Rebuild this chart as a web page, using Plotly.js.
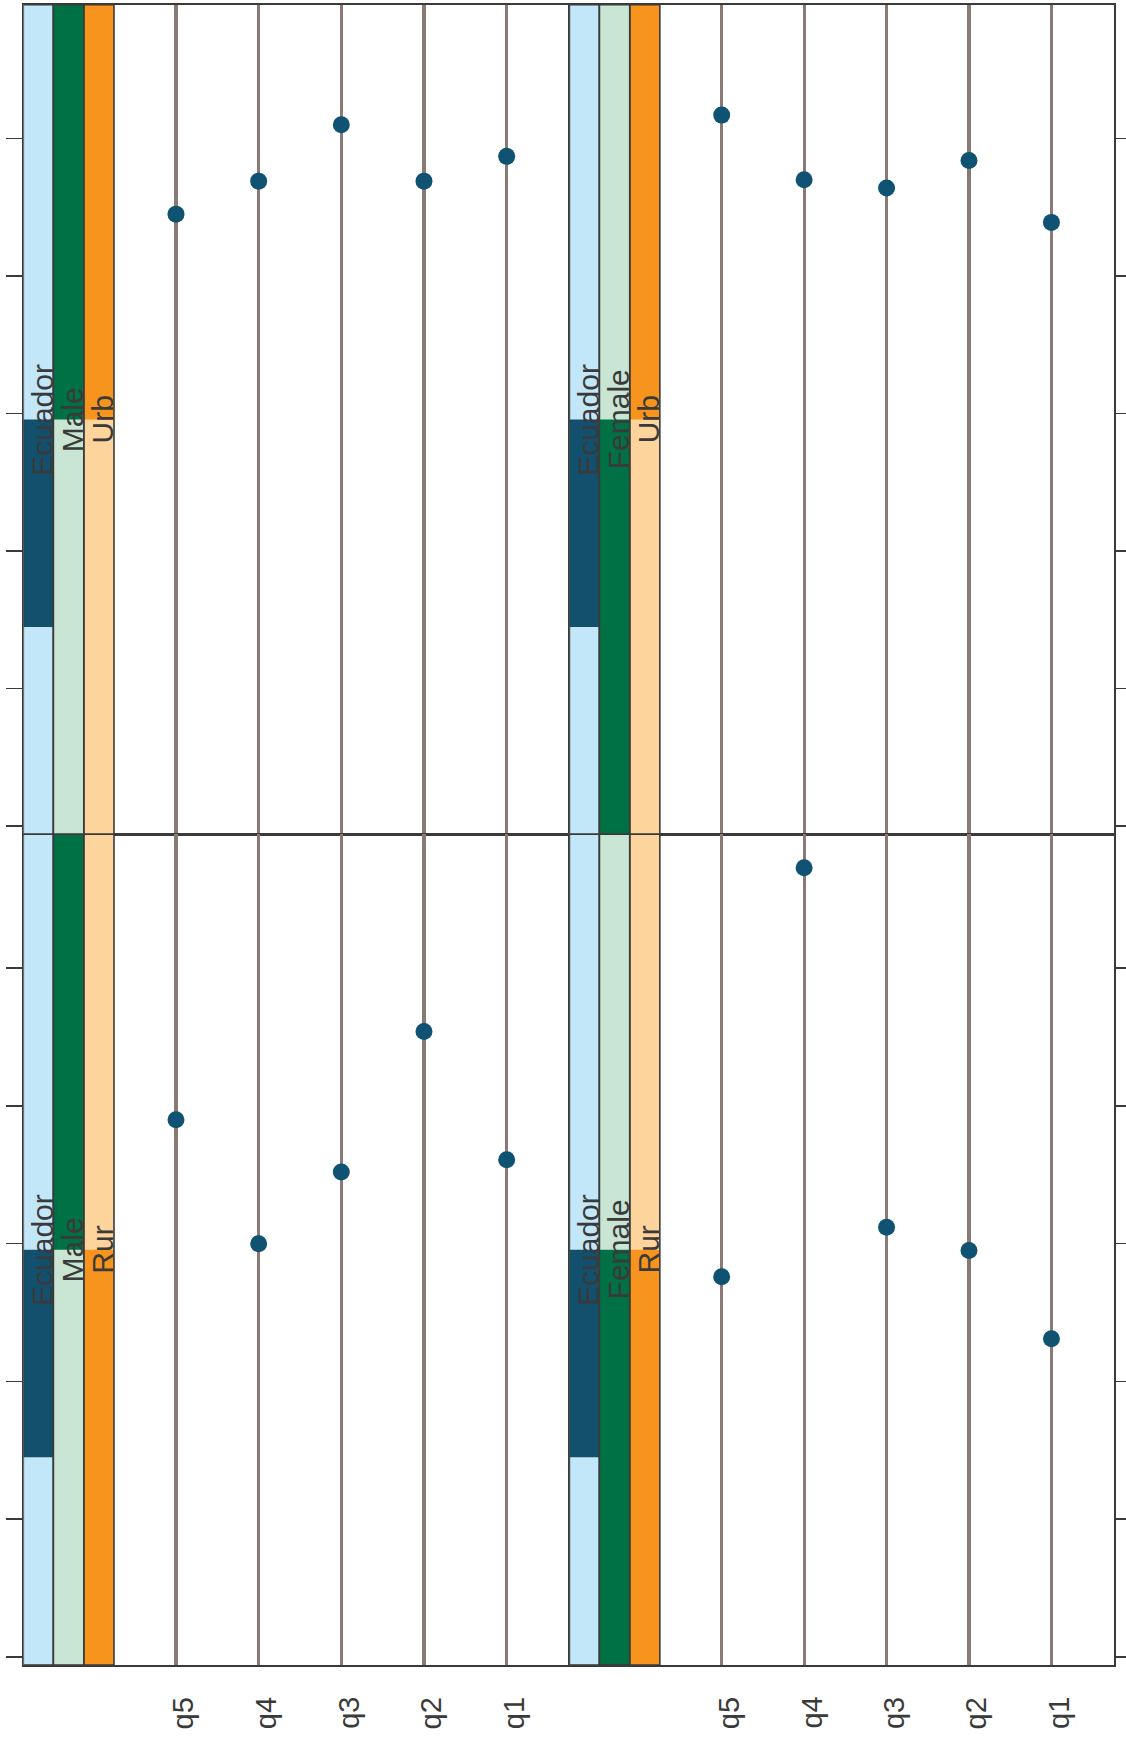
<!DOCTYPE html>
<html><head><meta charset="utf-8">
<script src="https://cdn.plot.ly/plotly-3.0.1.min.js"></script>
<style>html,body{margin:0;padding:0;background:#fff}#chart{width:1126px;height:1754px}</style>
</head><body><div id="chart"></div>
<script>
// ---- data ----
const quintiles = ['q5', 'q4', 'q3', 'q2', 'q1'];
const maleUrb   = [4.45, 4.69, 5.10, 4.69, 4.87];
const femaleUrb = [5.17, 4.70, 4.64, 4.84, 4.39];
const maleRur   = [3.90, 3.00, 3.52, 4.54, 3.61];
const femaleRur = [2.76, 5.73, 3.12, 2.95, 2.31];
const valueTicks = [0, 1, 2, 3, 4, 5];
const countryName = 'Ecuador';
const sexLevels = ['Male', 'Female'];
const areaLevels = ['Urb', 'Rur'];

// ---- styling ----
const W = 1126, H = 1754;
const FONT = 'Liberation Sans, Arial, Helvetica, sans-serif';
const C = {
  dot: '#0f5272', grid: '#8a7a73', frame: '#3a3a3a', text: '#3a3a3a',
  lightBlue: '#c2e7f9', navy: '#12506e',
  darkGreen: '#007045', lightGreen: '#c8e6d3',
  orange: '#f7941e', lightOrange: '#fdd49b'
};
const px = {left: 23.3, mid: 569.4, right: 1114, top: 4.7, midY: 834.3, bottom: 1665};
const xRange = [-1.847, 4.759];
const yRange = [-0.06, 5.973];
const stripEdges = [-1.847, -1.484, -1.115, -0.75];

const panels = [
  {ax: '',  sex: 0, area: 0, vals: maleUrb,   col: 0, row: 0},
  {ax: '2', sex: 1, area: 0, vals: femaleUrb, col: 1, row: 0},
  {ax: '3', sex: 0, area: 1, vals: maleRur,   col: 0, row: 1},
  {ax: '4', sex: 1, area: 1, vals: femaleRur, col: 1, row: 1}
];

const data = [];
const layout = {
  width: W, height: H, margin: {l: 0, r: 0, t: 0, b: 0},
  paper_bgcolor: '#ffffff', plot_bgcolor: '#ffffff',
  showlegend: false, shapes: [], annotations: []
};

panels.forEach(p => {
  const xa = 'x' + p.ax, ya = 'y' + p.ax;
  const xd = p.col === 0 ? [px.left / W, px.mid / W] : [px.mid / W, px.right / W];
  const yd = p.row === 0 ? [1 - px.midY / H, 1 - px.top / H] : [1 - px.bottom / H, 1 - px.midY / H];
  layout['xaxis' + p.ax] = {
    domain: xd, anchor: ya, type: 'category', categoryorder: 'array', categoryarray: quintiles,
    tickmode: 'array', tickvals: quintiles, range: xRange,
    showgrid: true, gridcolor: C.grid, gridwidth: 3.2, showticklabels: false, ticks: '',
    showline: true, mirror: true, linecolor: C.frame, linewidth: 1.6, zeroline: false, fixedrange: true
  };
  layout['yaxis' + p.ax] = {
    domain: yd, anchor: xa, range: yRange, tickmode: 'array', tickvals: valueTicks,
    side: p.col === 0 ? 'left' : 'right',
    ticks: 'outside', ticklen: 16, tickwidth: 1.6, tickcolor: C.frame, showticklabels: false,
    showgrid: false, zeroline: false, showline: true, mirror: true, linecolor: C.frame, linewidth: 1.6,
    fixedrange: true
  };
  data.push({
    type: 'scatter', mode: 'markers', x: quintiles, y: p.vals, xaxis: xa, yaxis: ya,
    marker: {size: 17, color: C.dot}, hoverinfo: 'x+y'
  });

  const yr = ya + ' domain';
  const rect = (x0, x1, y0, y1, fill) => layout.shapes.push({
    type: 'rect', xref: xa, yref: yr, x0, x1, y0, y1, fillcolor: fill, line: {width: 0}, layer: 'above'
  });
  // strip 1: country (level indicator in 3rd quarter from the top)
  rect(stripEdges[0], stripEdges[1], 0, 1, C.lightBlue);
  rect(stripEdges[0], stripEdges[1], 0.25, 0.5, C.navy);
  // strip 2: sex
  rect(stripEdges[1], stripEdges[2], 0, 1, C.lightGreen);
  rect(stripEdges[1], stripEdges[2], p.sex === 0 ? 0.5 : 0, p.sex === 0 ? 1 : 0.5, C.darkGreen);
  // strip 3: area
  rect(stripEdges[2], stripEdges[3], 0, 1, C.lightOrange);
  rect(stripEdges[2], stripEdges[3], p.area === 0 ? 0.5 : 0, p.area === 0 ? 1 : 0.5, C.orange);
  // outlines
  for (let k = 0; k < 3; k++) {
    layout.shapes.push({type: 'rect', xref: xa, yref: yr, x0: stripEdges[k], x1: stripEdges[k + 1],
      y0: 0, y1: 1, line: {color: C.frame, width: 1.6}, fillcolor: 'rgba(0,0,0,0)', layer: 'above'});
  }
  const labels = [countryName, sexLevels[p.sex], areaLevels[p.area]];
  labels.forEach((t, k) => layout.annotations.push({
    xref: xa, yref: yr, x: stripEdges[k + 1], xshift: -11, y: 0.5, text: t, textangle: -90,
    showarrow: false, xanchor: 'center', yanchor: 'middle',
    font: {family: FONT, size: 30, color: C.text}
  }));
  if (p.row === 1) {
    quintiles.forEach(q => layout.annotations.push({
      xref: xa, yref: 'paper', x: q, xshift: 7.5, y: 1 - 1713 / H, text: q, textangle: -90,
      showarrow: false, xanchor: 'center', yanchor: 'middle',
      font: {family: FONT, size: 29, color: C.text}
    }));
  }
});

Plotly.newPlot('chart', data, layout, {displayModeBar: false, staticPlot: true});
</script></body></html>
